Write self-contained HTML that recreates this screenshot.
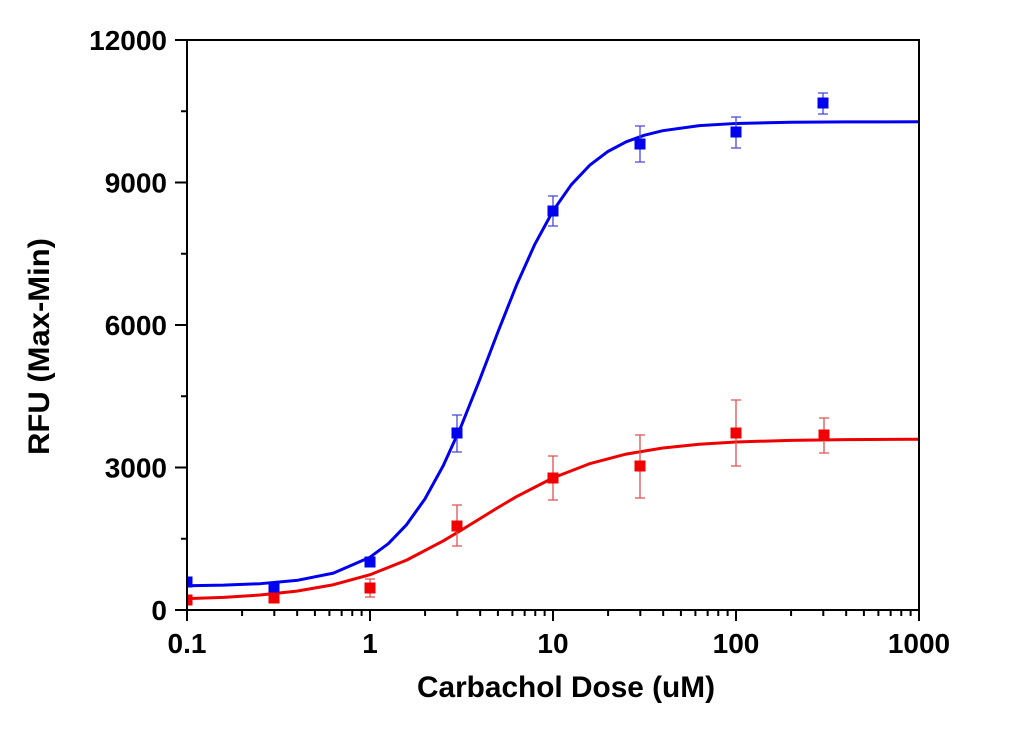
<!DOCTYPE html>
<html>
<head>
<meta charset="utf-8">
<style>
html,body{margin:0;padding:0;background:#fff;}
svg{display:block;}
text{font-family:"Liberation Sans",Arial,sans-serif;font-weight:bold;fill:#000;}
</style>
</head>
<body>
<svg width="1010" height="738" viewBox="0 0 1010 738" xmlns="http://www.w3.org/2000/svg">
<defs>
<clipPath id="plot"><rect x="187" y="40" width="732" height="570"/></clipPath>
</defs>
<rect width="1010" height="738" fill="#fff"/>

<!-- curves -->
<g clip-path="url(#plot)" fill="none" stroke-width="3" stroke-linejoin="round" stroke-linecap="round">
<polyline stroke="#0000ee" points="187,585.76 223.6,585.13 260.2,583.69 296.8,580.42 333.4,573.10 370,557.20 388.3,543.65 406.6,524.67 424.9,498.97 443.2,465.78 461.5,425.34 479.8,379.49 498.1,331.52 516.4,285.42 534.7,244.54 553,210.86 571.3,184.70 589.6,165.35 607.9,151.49 626.2,141.82 644.5,135.19 662.8,130.70 699.4,125.67 736,123.44 790.9,122.2 845.8,121.85 919,121.8"/>
<polyline stroke="#ee0000" points="187,598.67 223.6,597.32 260.2,595.00 296.8,591.10 333.4,584.71 370,574.71 406.6,560.13 443.2,540.92 461.5,530.02 479.8,518.74 498.1,507.49 516.4,496.71 553,477.88 589.6,463.72 626.2,454.09 662.8,447.96 699.4,444.24 736,442.02 790.9,440.32 845.8,439.57 919,439.19"/>
</g>

<!-- error bars -->
<g clip-path="url(#plot)" stroke-width="1.3" fill="none">
<g stroke="#4848d8">
<path d="M457,415V452M452,415H462M452,452H462"/>
<path d="M553,196V226M548,196H558M548,226H558"/>
<path d="M640,126V162M635,126H645M635,162H645"/>
<path d="M736,117V148M731,117H741M731,148H741"/>
<path d="M823,93V114M818,93H828M818,114H828"/>
</g>
<g stroke="#e05050">
<path d="M370,579V597M365,579H375M365,597H375"/>
<path d="M457,505V546M452,505H462M452,546H462"/>
<path d="M553,456V500M548,456H558M548,500H558"/>
<path d="M640,435V498M635,435H645M635,498H645"/>
<path d="M736,400V466M731,400H741M731,466H741"/>
<path d="M824,418V453M819,418H829M819,453H829"/>
</g>
</g>

<!-- markers -->
<g clip-path="url(#plot)">
<g fill="#0000f0">
<rect x="181.5" y="576.5" width="11" height="11"/>
<rect x="268.5" y="581.5" width="11" height="11"/>
<rect x="364.5" y="556.5" width="11" height="11"/>
<rect x="451.5" y="427.5" width="11" height="11"/>
<rect x="547.5" y="205.5" width="11" height="11"/>
<rect x="634.5" y="138.5" width="11" height="11"/>
<rect x="730.5" y="126.5" width="11" height="11"/>
<rect x="817.5" y="97.5" width="11" height="11"/>
</g>
<g fill="#f00000">
<rect x="181.5" y="594.5" width="11" height="11"/>
<rect x="268.5" y="592.5" width="11" height="11"/>
<rect x="364.5" y="582.5" width="11" height="11"/>
<rect x="451.5" y="520.5" width="11" height="11"/>
<rect x="547.5" y="472.5" width="11" height="11"/>
<rect x="634.5" y="460.5" width="11" height="11"/>
<rect x="730.5" y="427.5" width="11" height="11"/>
<rect x="818.5" y="429.5" width="11" height="11"/>
</g>
</g>

<!-- frame -->
<rect x="187" y="40" width="732" height="570" fill="none" stroke="#000" stroke-width="2"/>

<!-- y ticks -->
<g stroke="#000" stroke-width="2">
<path d="M175,610H187M175,467.5H187M175,325H187M175,182.5H187M175,40H187"/>
<path d="M181,538.75H187M181,396.25H187M181,253.75H187M181,111.25H187"/>
</g>

<!-- x ticks -->
<g stroke="#000" stroke-width="2">
<path d="M187,610V621M370,610V621M553,610V621M736,610V621M919,610V621"/>
<path d="
M242.09,610V616M274.31,610V616M297.18,610V616M314.91,610V616M329.4,610V616M341.65,610V616M352.27,610V616M361.63,610V616
M425.09,610V616M457.31,610V616M480.18,610V616M497.91,610V616M512.4,610V616M524.65,610V616M535.27,610V616M544.63,610V616
M608.09,610V616M640.31,610V616M663.18,610V616M680.91,610V616M695.4,610V616M707.65,610V616M718.27,610V616M727.63,610V616
M791.09,610V616M823.31,610V616M846.18,610V616M863.91,610V616M878.4,610V616M890.65,610V616M901.27,610V616M910.63,610V616"/>
</g>

<!-- y tick labels -->
<g font-size="28" text-anchor="end">
<text x="167" y="620">0</text>
<text x="167" y="477.5">3000</text>
<text x="167" y="335">6000</text>
<text x="167" y="192.5">9000</text>
<text x="167" y="50">12000</text>
</g>

<!-- x tick labels -->
<g font-size="28" text-anchor="middle">
<text x="187" y="653">0.1</text>
<text x="370" y="653">1</text>
<text x="553" y="653">10</text>
<text x="736" y="653">100</text>
<text x="919" y="653">1000</text>
</g>

<!-- axis titles -->
<text x="566" y="697" font-size="30" text-anchor="middle" textLength="298" lengthAdjust="spacingAndGlyphs">Carbachol Dose (uM)</text>
<text transform="translate(49,346.5) rotate(-90)" x="0" y="0" font-size="30" text-anchor="middle" textLength="217" lengthAdjust="spacingAndGlyphs">RFU (Max-Min)</text>
</svg>
</body>
</html>
